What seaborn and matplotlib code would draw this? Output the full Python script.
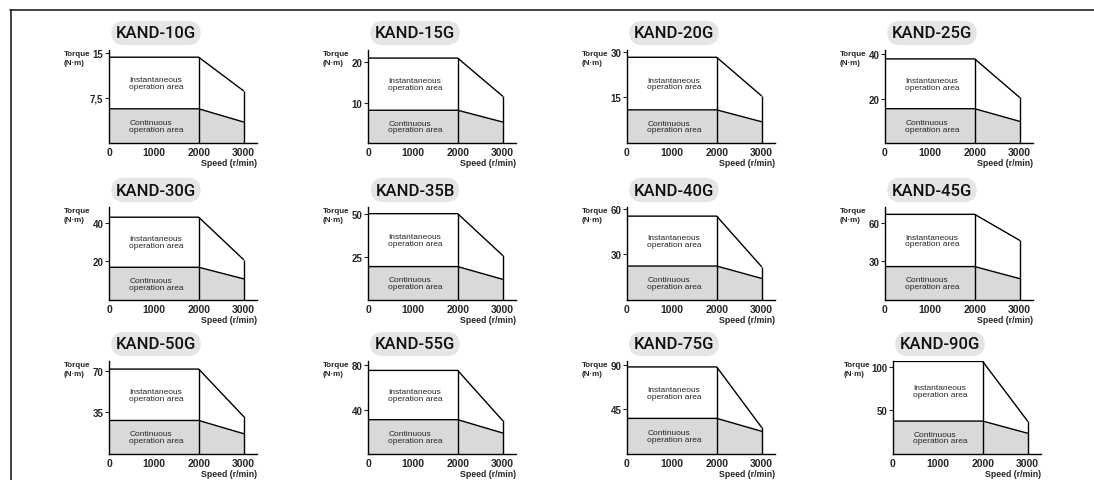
import matplotlib
matplotlib.use("Agg")
import matplotlib.pyplot as plt
import seaborn as sns
import pandas as pd
from matplotlib.lines import Line2D

# torque-speed curves, values in N·m
models = ["KAND-10G", "KAND-15G", "KAND-20G", "KAND-25G",
          "KAND-30G", "KAND-35B", "KAND-40G", "KAND-45G",
          "KAND-50G", "KAND-55G", "KAND-75G", "KAND-90G"]
inst_peak = [14.3, 21.0, 28.2, 37.8, 43.0, 50.4, 55.1, 66.4, 71.4, 75.5, 88.0, 106.0]
inst_3000 = [8.7, 11.6, 15.5, 20.5, 21.0, 26.1, 21.9, 46.3, 31.6, 30.3, 27.0, 37.7]
cont_rated = [5.7, 8.1, 10.9, 15.4, 17.0, 19.5, 22.3, 25.9, 28.2, 31.0, 36.0, 37.7]
cont_3000 = [3.5, 5.2, 7.0, 9.75, 11.0, 12.1, 14.2, 16.6, 17.1, 19.0, 23.0, 23.8]
y_ticks = [[7.5, 15], [10, 20], [15, 30], [20, 40],
           [20, 40], [25, 50], [30, 60], [30, 60],
           [35, 70], [40, 80], [45, 90], [50, 100]]
y_labels = [["7,5", "15"], ["10", "20"], ["15", "30"], ["20", "40"],
            ["20", "40"], ["25", "50"], ["30", "60"], ["30", "60"],
            ["35", "70"], ["40", "80"], ["45", "90"], ["50", "100"]]
y_max = [15.5, 23.0, 30.6, 41.8, 48.3, 54.3, 61.1, 72.1, 78.2, 84.0, 94.0, 106.5]
speeds = [0, 2000, 3000]
x_ticks = [0, 1000, 2000, 3000]

sns.set_style("white")
plt.rcParams["font.family"] = ["Liberation Sans", "DejaVu Sans"]

W, H = 1094, 481
fig = plt.figure(figsize=(W / 100, H / 100), dpi=100)

col_x = [109, 368, 627, 885]
row_base = [144, 301, 455]
ax_w, ax_h = 148, 93

for i, name in enumerate(models):
    r, c = divmod(i, 4)
    left = col_x[c] + (8 if i == 11 else 0)
    ax = fig.add_axes([left / W, (H - row_base[r]) / H, ax_w / W, ax_h / H])

    inst = pd.DataFrame({"speed": speeds,
                         "torque": [inst_peak[i], inst_peak[i], inst_3000[i]]})
    cont = pd.DataFrame({"speed": speeds,
                         "torque": [cont_rated[i], cont_rated[i], cont_3000[i]]})

    ax.fill_between(cont["speed"], 0, cont["torque"], color="#d9d9d9", lw=0)
    sns.lineplot(data=inst, x="speed", y="torque", ax=ax, color="black",
                 lw=1.0, estimator=None)
    sns.lineplot(data=cont, x="speed", y="torque", ax=ax, color="black",
                 lw=1.0, estimator=None)
    ax.vlines([2000, 3000], 0, [inst_peak[i], inst_3000[i]], color="black", lw=1.0)

    ax.set_xlim(0, 3300)
    ax.set_ylim(0, y_max[i])
    ax.set_xticks(x_ticks)
    ax.set_xticklabels([str(t) for t in x_ticks], fontsize=7.5, fontweight="bold")
    ax.set_yticks(y_ticks[i])
    ax.set_yticklabels(y_labels[i], fontsize=7, fontweight="bold")
    ax.tick_params(axis="x", length=0, pad=3)
    ax.tick_params(axis="y", length=3, width=0.8, pad=1, left=True)
    ax.set_xlabel("")
    ax.set_ylabel("")
    for s in ["top", "right"]:
        ax.spines[s].set_visible(False)
    for s in ["left", "bottom"]:
        ax.spines[s].set_color("black")
        ax.spines[s].set_linewidth(1.0)
    ax.set_facecolor("none")

    ax.text(450, (cont_rated[i] + inst_peak[i]) / 2, "Instantaneous\noperation area",
            fontsize=6, va="center", ha="left", linespacing=0.95)
    ax.text(450, cont_rated[i] / 2, "Continuous\noperation area",
            fontsize=6, va="center", ha="left", linespacing=0.95)

    tq_x = -49 if i == 11 else -45
    ax.text(tq_x / ax_w, 1.0, "Torque\n(N·m)", transform=ax.transAxes,
            fontsize=5.8, fontweight="bold", va="top", ha="left", linespacing=1.35)
    ax.text(1.0, -20 / ax_h, "Speed (r/min)", transform=ax.transAxes,
            fontsize=6.3, fontweight="bold", va="center", ha="right")

    ax.text(47 / ax_w, 1 + 17 / ax_h, name, transform=ax.transAxes,
            fontsize=12, ha="center", va="center", color="#111111",
            family=["Roboto", "Liberation Sans"], fontweight="medium",
            bbox=dict(boxstyle="round,pad=0.28,rounding_size=0.8",
                      fc="#e5e5e5", ec="none"))

# page frame
fig.add_artist(Line2D([10 / W, 1], [1 - 10.5 / H] * 2, color="#222222", lw=1.2))
fig.add_artist(Line2D([10.5 / W] * 2, [0, 1 - 10.5 / H], color="#222222", lw=1.2))

fig.savefig("out.png", dpi=100)
